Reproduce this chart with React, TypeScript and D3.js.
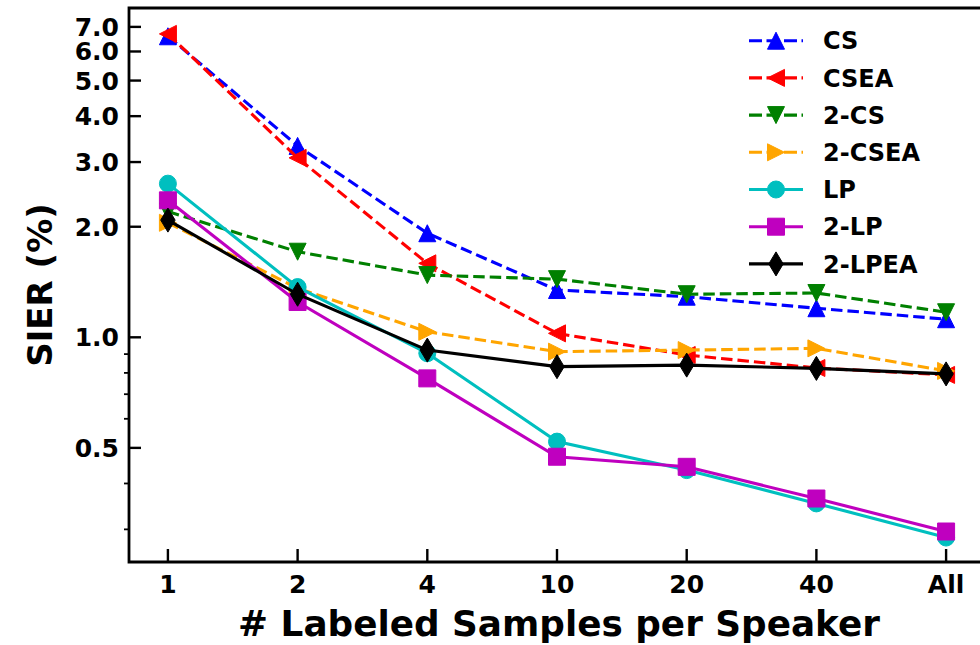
import React from 'react'
import * as d3 from 'd3'

const xLabels = ['1', '2', '4', '10', '20', '40', 'All']

const csVals = [6.6, 3.32, 1.92, 1.345, 1.29, 1.2, 1.12]
const cseaVals = [6.7, 3.08, 1.59, 1.025, 0.895, 0.825, 0.79]
const twoCsVals = [2.2, 1.71, 1.477, 1.44, 1.31, 1.32, 1.17]
const twoCseaVals = [2.05, 1.36, 1.035, 0.914, 0.923, 0.933, 0.81]
const lpVals = [2.62, 1.37, 0.905, 0.52, 0.435, 0.353, 0.285]
const twoLpVals = [2.36, 1.248, 0.773, 0.473, 0.444, 0.364, 0.296]
const twoLpeaVals = [2.085, 1.31, 0.923, 0.832, 0.84, 0.823, 0.795]

const yMajorTicks = [0.5, 1, 2, 3, 4, 5, 6, 7]
const yMinorTicks = [0.3, 0.4, 0.6, 0.7, 0.8, 0.9]

const series = [
    { name: 'CS', values: csVals, color: '#0000ff', marker: 'up', dashed: true },
    { name: 'CSEA', values: cseaVals, color: '#ff0000', marker: 'left', dashed: true },
    { name: '2-CS', values: twoCsVals, color: '#008000', marker: 'down', dashed: true },
    { name: '2-CSEA', values: twoCseaVals, color: '#ffa500', marker: 'right', dashed: true },
    { name: 'LP', values: lpVals, color: '#00bfbf', marker: 'circle', dashed: false },
    { name: '2-LP', values: twoLpVals, color: '#bf00bf', marker: 'square', dashed: false },
    { name: '2-LPEA', values: twoLpeaVals, color: '#000000', marker: 'thindiamond', dashed: false },
]

const width = 980,
    height = 645,
    left = 129,
    right = 985,
    top = 8,
    bottom = 562,
    ms = 17,
    lw = 3.1

const font = "'DejaVu Sans', sans-serif"

// marker outline around (0,0), sized like matplotlib markers
const markerPath = (type: string, s: number) => {
    const h = s / 2
    switch (type) {
        case 'up': return `M0,${-h}L${h},${h}L${-h},${h}Z`
        case 'down': return `M0,${h}L${h},${-h}L${-h},${-h}Z`
        case 'left': return `M${-h},0L${h},${-h}L${h},${h}Z`
        case 'right': return `M${h},0L${-h},${-h}L${-h},${h}Z`
        case 'square': return `M${-h},${-h}H${h}V${h}H${-h}Z`
        case 'thindiamond': {
            const dy = h * Math.SQRT2, dx = dy * 0.6
            return `M0,${-dy}L${dx},0L0,${dy}L${-dx},0Z`
        }
        default: return d3.arc()({ innerRadius: 0, outerRadius: h, startAngle: 0, endAngle: 2 * Math.PI }) as string
    }
}

const Marker = ({ type, x, y, color }: { type: string, x: number, y: number, color: string }) => (
    <path d={markerPath(type, ms)} transform={`translate(${x},${y})`}
        fill={color} stroke={color} strokeWidth={1} strokeLinejoin="miter" />
)

export default function App() {
    const x = d3.scalePoint<string>().domain(xLabels).range([left, right]).padding(0.3)
    const y = d3.scaleLog().domain([0.2445, 7.88]).range([bottom, top])

    const line = d3.line<number>()
        .x((d, i) => x(xLabels[i]) as number)
        .y(d => y(d))

    const dash = `${(3.7 * lw).toFixed(1)},${(1.6 * lw).toFixed(1)}`

    return (
        <svg width={width} height={height} style={{ position: 'absolute', left: 0, top: 0, background: '#fff' }}
            fontFamily={font} fontWeight="bold">
            <rect width={width} height={height} fill="#fff" />

            {series.map(s => (
                <g key={s.name}>
                    <path d={line(s.values) as string} fill="none" stroke={s.color} strokeWidth={lw}
                        strokeDasharray={s.dashed ? dash : undefined} />
                    {s.values.map((v, i) => (
                        <Marker key={i} type={s.marker} x={x(xLabels[i]) as number} y={y(v)} color={s.color} />
                    ))}
                </g>
            ))}

            {/* spines */}
            <path d={`M${left},${top}H${right}V${bottom}H${left}Z`} fill="none" stroke="#000" strokeWidth={2.8} />

            {/* x axis */}
            {xLabels.map(l => (
                <g key={l} transform={`translate(${x(l)},0)`}>
                    <line y1={bottom} y2={bottom - 13} stroke="#000" strokeWidth={2.4} />
                    <text y={593} textAnchor="middle" fontSize={25}>{l}</text>
                </g>
            ))}
            <text x={559} y={636} textAnchor="middle" fontSize={35.8}># Labeled Samples per Speaker</text>

            {/* y axis */}
            {yMajorTicks.map(t => (
                <g key={t} transform={`translate(0,${y(t)})`}>
                    <line x1={left} x2={left + 12} stroke="#000" strokeWidth={2.4} />
                    <text x={119} dy="0.36em" textAnchor="end" fontSize={25}>{t.toFixed(1)}</text>
                </g>
            ))}
            {yMinorTicks.map(t => (
                <line key={t} x1={left} x2={left - 5} y1={y(t)} y2={y(t)} stroke="#000" strokeWidth={1.8} />
            ))}
            <text transform="translate(52,285) rotate(-90)" textAnchor="middle" fontSize={34}>SIER (%)</text>

            {/* legend */}
            {series.map((s, i) => {
                const cy = 40.7 + i * 37.2
                return (
                    <g key={s.name}>
                        <line x1={749} x2={803} y1={cy} y2={cy} stroke={s.color} strokeWidth={lw}
                            strokeDasharray={s.dashed ? '13,4.5' : undefined} />
                        <Marker type={s.marker} x={776} y={cy} color={s.color} />
                        <text x={823} y={cy} dy="0.36em" fontSize={24}>{s.name}</text>
                    </g>
                )
            })}
        </svg>
    )
}
